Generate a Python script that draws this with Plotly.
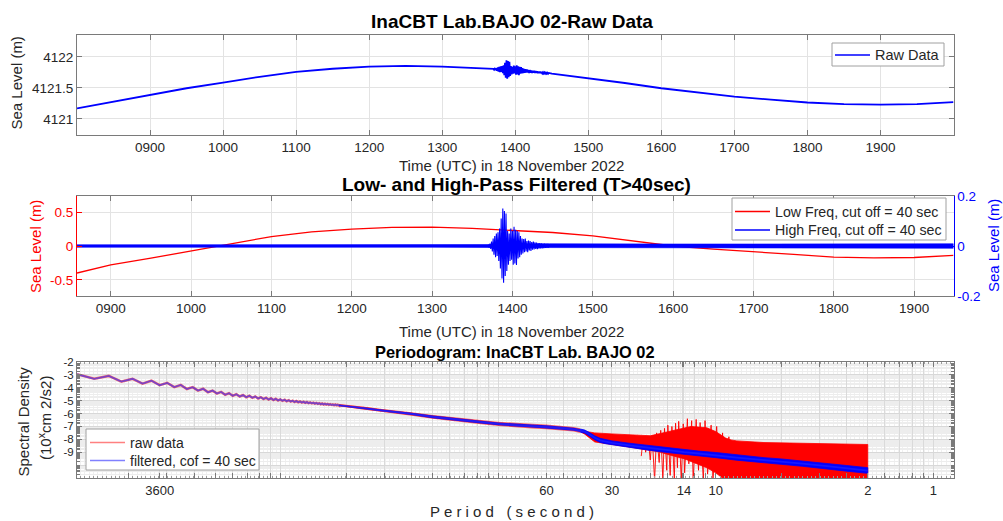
import numpy as np
import plotly.graph_objects as go

FONT = "Liberation Sans, Arial, Helvetica, sans-serif"
W, H = 1003, 521

# ---------------- Panel 1: raw data (hours UTC, metres) ----------------
raw_hours = [8.0, 8.5, 9.0, 9.5, 10.0, 10.5, 11.0, 11.5, 12.0, 12.5, 13.0, 13.5,
             14.0, 14.5, 15.0, 15.5, 16.0, 16.5, 17.0, 17.5, 18.0, 18.5, 19.0, 19.5, 20.0]
raw_level = [4121.17, 4121.28, 4121.39, 4121.495, 4121.585, 4121.68, 4121.76, 4121.81,
             4121.845, 4121.855, 4121.845, 4121.81, 4121.79, 4121.73, 4121.66, 4121.58,
             4121.495, 4121.425, 4121.36, 4121.31, 4121.265, 4121.24, 4121.23, 4121.24, 4121.27]

# ---------------- High-frequency (T<40 s) signal, metres ----------------
burst_start_hour = 13.70
burst_step_hour = 0.01
hf_burst = [0.006, -0.007, 0.010, -0.012, 0.018, -0.022, 0.030, -0.035, 0.040, -0.045,
            0.050, -0.040, 0.055, -0.060, 0.070, -0.090, 0.110, -0.130, 0.150, -0.147,
            0.140, -0.120, 0.130, -0.100, 0.060, -0.075, 0.050, -0.060, 0.070, -0.055,
            0.060, -0.075, 0.077, -0.070, 0.065, -0.076, 0.060, -0.050, 0.055, -0.045,
            0.040, -0.035, 0.030, -0.030, 0.028, -0.025, 0.030, -0.022, 0.020, -0.025,
            0.022, -0.018, 0.020, -0.020, 0.016, -0.015, 0.018, -0.014, 0.015, -0.012,
            0.014, -0.013, 0.012, -0.011, 0.012, -0.010, 0.011, -0.010, 0.010, -0.009,
            0.010, -0.008, 0.009, -0.008, 0.009, -0.007, 0.008]
hf_band_hours = [8.58, 10.0, 11.0, 12.0, 13.0, 13.7, 14.46, 15.0, 16.0, 17.0, 18.0, 19.0, 19.49]
hf_band_upper = [0.005, 0.005, 0.005, 0.005, 0.005, 0.006, 0.009, 0.008, 0.008, 0.008, 0.008, 0.009, 0.009]
hf_band_lower = [-0.005, -0.005, -0.005, -0.005, -0.005, -0.006, -0.009, -0.008, -0.008, -0.008, -0.008, -0.009, -0.009]

# ---------------- Low-frequency (T>40 s) signal, metres ----------------
low_hours = [8.58, 9.0, 9.5, 10.0, 10.5, 11.0, 11.5, 12.0, 12.5, 13.0, 13.5, 14.0, 14.5,
             15.0, 15.5, 16.0, 16.5, 17.0, 17.5, 18.0, 18.5, 19.0, 19.49]
low_level = [-0.40, -0.28, -0.18, -0.07, 0.04, 0.14, 0.21, 0.25, 0.275, 0.28, 0.26, 0.235, 0.20,
             0.15, 0.08, 0.0, -0.045, -0.08, -0.125, -0.165, -0.175, -0.17, -0.14]

time_tick_hours = [9, 10, 11, 12, 13, 14, 15, 16, 17, 18, 19]
time_tick_text = ["0900", "1000", "1100", "1200", "1300", "1400", "1500", "1600", "1700", "1800", "1900"]

# ---------------- Panel 3: periodogram (log10 of spectral density) ----------------
record_seconds = 43200
psd_first_bin = 5
psd_ripple = [-2.95, -3.30, -3.08, -3.52, -3.30, -3.68, -3.45, -3.80, -3.62, -3.95,
              -3.78, -4.10, -3.95, -4.22, -4.08, -4.35, -4.22, -4.45, -4.32, -4.54,
              -4.42, -4.62, -4.50, -4.68, -4.56, -4.74, -4.62, -4.78, -4.68, -4.83,
              -4.73, -4.87, -4.78, -4.91, -4.82, -4.95, -4.86, -4.98, -4.90, -5.01,
              -4.93, -5.04, -4.97, -5.07, -5.00, -5.10, -5.03, -5.12, -5.06, -5.15,
              -5.09, -5.17, -5.11, -5.19, -5.14, -5.21, -5.16, -5.23, -5.18, -5.25,
              -5.20, -5.27, -5.22, -5.29, -5.24, -5.30, -5.26, -5.32, -5.27, -5.33,
              -5.29, -5.35, -5.30, -5.36, -5.32, -5.37]
psd_trend_period = [540, 500, 450, 400, 350, 300, 250, 200, 170, 150, 120, 100, 85, 70, 60, 50, 45, 42]
psd_trend_value = [-5.36, -5.42, -5.50, -5.62, -5.75, -5.86, -6.03, -6.26, -6.40, -6.50, -6.66,
                   -6.80, -6.89, -6.97, -7.03, -7.14, -7.22, -7.32]
psd_trend_halfwidth = [0.05, 0.06, 0.07, 0.08, 0.08, 0.09, 0.09, 0.10, 0.10, 0.10, 0.11,
                       0.11, 0.11, 0.12, 0.12, 0.12, 0.12, 0.12]
psd_filt_tail_period = [42, 40, 38, 36, 34, 32, 30, 25, 20, 17, 14, 12, 10, 8, 6, 5, 4, 3, 2.5, 2]
psd_filt_tail_value = [-7.32, -7.40, -7.62, -7.88, -8.08, -8.18, -8.28, -8.47, -8.68, -8.83,
                       -9.00, -9.10, -9.22, -9.42, -9.62, -9.73, -9.88, -10.10, -10.25, -10.42]
psd_filt_tail_halfwidth = [0.12, 0.12, 0.14, 0.15, 0.16, 0.16, 0.16, 0.17, 0.18, 0.18, 0.19,
                           0.19, 0.2, 0.2, 0.2, 0.21, 0.21, 0.21, 0.22, 0.22]
psd_raw_tail_period = [42, 40, 36, 30, 25, 22, 20, 18, 16, 14, 13, 12, 11, 10, 9, 8.5, 8, 6, 4, 3, 2]
psd_raw_tail_upper = [-7.32, -7.38, -7.50, -7.58, -7.65, -7.70, -7.72, -7.55, -7.35, -7.10,
                      -7.00, -7.05, -7.10, -7.40, -7.90, -8.05, -8.12, -8.25, -8.32, -8.36, -8.40]
psd_raw_tail_lower = [-7.40, -7.60, -8.20, -8.40, -8.60, -8.75, -8.85, -9.00, -9.25, -9.50,
                      -9.70, -9.95, -10.20, -10.60, -11.20, -11.20, -11.20, -11.20, -11.20, -11.20, -11.20]
psd_raw_spike_period = [22, 21.5, 21, 20.5, 20, 19.6, 19.1, 18.7, 18.2, 17.9, 17.5, 17.2, 16.8,
                        16.6, 16.2, 15.9, 15.5, 15.3, 15.0, 14.8, 14.4, 14.1, 13.9, 13.5,
                        13.3, 12.9, 12.7, 12.3, 12.0, 11.8, 11.4, 11.2, 10.9, 10.5, 10.3,
                        9.9, 9.7, 9.3, 9.1, 8.7, 8.4]
psd_raw_spike_value = [-9.3, -7.8, -9.0, -7.75, -9.6, -7.7, -11.2, -7.5, -9.8, -7.3, -11.2,
                       -7.15, -10.4, -6.9, -10.8, -7.0, -11.2, -6.75, -10.2, -6.6, -11.2,
                       -6.8, -10.6, -6.4, -9.9, -6.55, -11.2, -6.45, -10.4, -6.7, -11.2,
                       -6.55, -10.7, -6.9, -11.2, -7.0, -10.5, -7.5, -11.2, -7.8, -10.8]
period_tick_vals = [3600, 60, 30, 14, 10, 2, 1]
period_tick_text = ["3600", "60", "30", "14", "10", "2", "1"]
density_tick_vals = [-2, -3, -4, -5, -6, -7, -8, -9]


def fx(p):
    return p / W


def fy(p):
    return 1 - p / H


X_L, X_R = 77, 953.5
P1, P2, P3 = (35, 135), (196, 296), (362, 478)

fig = go.Figure()

# ---- panel 1 ----
burst_t = burst_start_hour + burst_step_hour * np.arange(len(hf_burst))
burst_raw = np.interp(burst_t, raw_hours, raw_level) + np.array(hf_burst)
rh = np.array(raw_hours)
rl = np.array(raw_level)
pre = rh < burst_t[0]
post = rh > burst_t[-1]
raw_x = np.concatenate([rh[pre], burst_t, rh[post]])
raw_y = np.concatenate([rl[pre], burst_raw, rl[post]])
fig.add_trace(go.Scatter(x=raw_x, y=raw_y, mode="lines", name="Raw Data",
                         line=dict(color="#0000ff", width=1.8), xaxis="x", yaxis="y"))

# ---- panel 2 ----
fig.add_trace(go.Scatter(x=low_hours, y=low_level, mode="lines",
                         name="Low Freq, cut off = 40 sec",
                         line=dict(color="#ff0000", width=1.3), xaxis="x2", yaxis="y2"))
band_x = list(hf_band_hours) + list(hf_band_hours[::-1])
band_y = list(hf_band_upper) + list(hf_band_lower[::-1])
fig.add_trace(go.Scatter(x=band_x, y=band_y, mode="lines", fill="toself",
                         fillcolor="#0000ff", line=dict(color="#0000ff", width=0.6),
                         xaxis="x2", yaxis="y3", hoverinfo="skip"))
fig.add_trace(go.Scatter(x=burst_t, y=hf_burst, mode="lines",
                         name="High Freq, cut off = 40 sec",
                         line=dict(color="#0000ff", width=1.1), xaxis="x2", yaxis="y3"))

# ---- panel 3 ----
ripple_period = record_seconds / np.arange(psd_first_bin, psd_first_bin + len(psd_ripple))
shared_period = np.concatenate([ripple_period, psd_trend_period])
shared_value = np.concatenate([psd_ripple, psd_trend_value])
tp = np.array(psd_trend_period)
tv = np.array(psd_trend_value)
thw = np.array(psd_trend_halfwidth)

raw_band_x = list(psd_raw_tail_period) + list(psd_raw_tail_period[::-1])
raw_band_y = list(psd_raw_tail_upper) + list(psd_raw_tail_lower[::-1])
fig.add_trace(go.Scatter(x=raw_band_x, y=raw_band_y, mode="lines", fill="toself",
                         fillcolor="#ff0000", line=dict(color="#ff0000", width=0.8),
                         xaxis="x3", yaxis="y4", hoverinfo="skip"))
fig.add_trace(go.Scatter(x=psd_raw_spike_period, y=psd_raw_spike_value, mode="lines",
                         line=dict(color="#ff0000", width=0.9), xaxis="x3", yaxis="y4",
                         hoverinfo="skip"))
fig.add_trace(go.Scatter(x=list(tp) + list(tp[::-1]),
                         y=list(tv + thw * 1.5) + list((tv - thw * 1.5)[::-1]),
                         mode="lines", fill="toself", fillcolor="rgba(255,0,0,0.6)",
                         line=dict(width=0), xaxis="x3", yaxis="y4", hoverinfo="skip"))
fig.add_trace(go.Scatter(x=shared_period, y=shared_value, mode="lines", name="raw data",
                         line=dict(color="rgba(255,0,0,0.55)", width=2.6), xaxis="x3", yaxis="y4"))
fp = np.array(psd_filt_tail_period)
fv = np.array(psd_filt_tail_value)
fhw = np.array(psd_filt_tail_halfwidth)
fig.add_trace(go.Scatter(x=list(tp) + list(tp[::-1]), y=list(tv + thw) + list((tv - thw)[::-1]),
                         mode="lines", fill="toself", fillcolor="rgba(0,0,255,0.85)",
                         line=dict(width=0), xaxis="x3", yaxis="y4", hoverinfo="skip"))
fig.add_trace(go.Scatter(x=list(fp) + list(fp[::-1]), y=list(fv + fhw) + list((fv - fhw)[::-1]),
                         mode="lines", fill="toself", fillcolor="#0000ff",
                         line=dict(color="#0000ff", width=0.8), xaxis="x3", yaxis="y4",
                         hoverinfo="skip"))
fig.add_trace(go.Scatter(x=np.concatenate([shared_period, fp]),
                         y=np.concatenate([shared_value, fv]), mode="lines",
                         name="filtered, cof = 40 sec",
                         line=dict(color="rgba(40,40,255,0.6)", width=1.8), xaxis="x3", yaxis="y4"))

# ---------------- axes ----------------
GRID = "#e3e3e3"
LINE = "#7a7a7a"
TXT = "#262626"


def base_axis(**kw):
    d = dict(showline=True, linecolor=LINE, linewidth=1, mirror="ticks", ticks="inside",
             ticklen=5, tickcolor=LINE, showgrid=True, gridcolor=GRID, zeroline=False,
             tickfont=dict(family=FONT, size=13.5, color=TXT), automargin=False)
    d.update(kw)
    return d


# periodogram grid: labelled periods plus log-decade (frequency) subdivisions
freq_decade_marks = [1.0 / (m * 10.0 ** n) for n in range(-4, 1) for m in range(1, 10)]
x3_tickvals = period_tick_vals + [p for p in freq_decade_marks if p not in period_tick_vals]
x3_ticktext = period_tick_text + ["" for p in freq_decade_marks if p not in period_tick_vals]
x3_fine = list(10.0 ** np.arange(-0.08, 3.94, 0.02))
y4_fine = list(np.arange(-11, -2, 0.25))

dom_x = [fx(X_L), fx(X_R)]
layout = dict(
    width=W, height=H, margin=dict(l=0, r=0, t=0, b=0), showlegend=False,
    paper_bgcolor="white", plot_bgcolor="white", font=dict(family=FONT, color=TXT),
    xaxis=base_axis(domain=dom_x, anchor="y", range=[8, 20], tickvals=time_tick_hours,
                    ticktext=time_tick_text),
    yaxis=base_axis(domain=[fy(P1[1]), fy(P1[0])], anchor="x", range=[4120.74, 4122.355],
                    tickvals=[4121, 4121.5, 4122], ticktext=["4121", "4121.5", "4122"]),
    xaxis2=base_axis(domain=dom_x, anchor="y2", range=[8.58, 19.49], tickvals=time_tick_hours,
                     ticktext=time_tick_text),
    yaxis2=base_axis(domain=[fy(P2[1]), fy(P2[0])], anchor="x2", range=[-0.74, 0.74],
                     tickvals=[-0.5, 0, 0.5], ticktext=["-0.5", "0", "0.5"], mirror=False,
                     linecolor="#ff0000", tickcolor="#ff0000",
                     tickfont=dict(family=FONT, size=13.5, color="#ff0000")),
    yaxis3=base_axis(domain=[fy(P2[1]), fy(P2[0])], anchor="x2", overlaying="y2", side="right",
                     range=[-0.2, 0.2], tickvals=[-0.2, 0, 0.2], ticktext=["-0.2", "0", "0.2"],
                     mirror=False, showgrid=False, linecolor="#0000ff", tickcolor="#0000ff",
                     tickfont=dict(family=FONT, size=13.5, color="#0000ff")),
    xaxis3=base_axis(domain=dom_x, anchor="y4", type="log",
                     range=[np.log10(record_seconds / psd_first_bin), np.log10(0.807)],
                     tickvals=x3_tickvals, ticktext=x3_ticktext, gridcolor="#dadada",
                     tickfont=dict(family=FONT, size=13, color=TXT),
                     minor=dict(tickvals=x3_fine, showgrid=True, gridcolor="#f0f0f0",
                                ticks="inside", ticklen=2, tickcolor="#9a9a9a")),
    yaxis4=base_axis(domain=[fy(P3[1]), fy(P3[0])], anchor="x3", range=[-11, -2],
                     tickvals=density_tick_vals + [-10, -11],
                     ticktext=[str(v) for v in density_tick_vals] + ["", ""],
                     gridcolor="#d8d8d8", tickfont=dict(family=FONT, size=11.5, color=TXT),
                     minor=dict(tickvals=y4_fine + [n + np.log10(k) for n in range(-11, -2)
                                                    for k in range(2, 10)],
                                showgrid=True, gridcolor="#ededed", ticks="inside",
                                ticklen=3, tickcolor=LINE)),
)
fig.update_layout(**layout)

ann = []
shapes = []


def add_text(text, x, y, size, bold=False, color=TXT, angle=0, anchor="center"):
    ann.append(dict(text=("<b>%s</b>" % text) if bold else text, x=fx(x), y=fy(y),
                    xref="paper", yref="paper", showarrow=False, xanchor=anchor,
                    yanchor="middle", textangle=angle,
                    font=dict(family=FONT, size=size, color=color)))


def legend_box(x0, y0, x1, y1, entries, size):
    shapes.append(dict(type="rect", xref="paper", yref="paper", x0=fx(x0), x1=fx(x1),
                       y0=fy(y1), y1=fy(y0), fillcolor="white",
                       line=dict(color="#a0a0a0", width=1), layer="above"))
    for (label, color, ly, lx0, lx1) in entries:
        shapes.append(dict(type="line", xref="paper", yref="paper", x0=fx(lx0), x1=fx(lx1),
                           y0=fy(ly), y1=fy(ly), line=dict(color=color, width=1.6),
                           layer="above"))
        add_text(label, lx1 + 3, ly, size, anchor="left")


add_text("InaCBT Lab.BAJO 02-Raw Data", 512, 22, 19, bold=True, color="#000000")
add_text("Time (UTC) in 18 November 2022", 512, 165, 15)
add_text("Sea Level (m)", 16.5, 83, 15, angle=-90)
add_text("Low- and High-Pass Filtered (T>40sec)", 516, 184, 19, bold=True, color="#000000")
add_text("Time (UTC) in 18 November 2022", 512, 331, 15)
add_text("Sea Level (m)", 35, 247, 15, color="#ff0000", angle=-90)
add_text("Sea Level (m)", 993, 246, 15, color="#0000ff", angle=-90)
add_text("Periodogram: InaCBT Lab. BAJO 02", 515, 352, 16.4, bold=True, color="#000000")
add_text("P e r i o d   ( s e c o n d )", 512, 511, 15)
add_text("Spectral Density", 22.5, 422, 15, angle=-90)
add_text("(10<sup>x</sup>cm 2/s2)", 44, 418, 15, angle=-90)

legend_box(832, 43, 944, 66, [("Raw Data", "#0000ff", 55, 835, 870)], 14.5)
legend_box(732, 198, 946, 240, [("Low Freq, cut off = 40 sec", "#ff0000", 211.5, 735, 770),
                                ("High Freq, cut off = 40 sec", "#0000ff", 230, 735, 770)], 14.2)
legend_box(86, 429, 259, 470, [("raw data", "#ff8080", 442.5, 90, 125),
                               ("filtered, cof = 40 sec", "#8080ff", 460.5, 90, 125)], 14)

fig.update_layout(annotations=ann, shapes=shapes)

fig.write_html("out.html", config={"displayModeBar": False},
               post_script="document.body.style.margin='0px';")
